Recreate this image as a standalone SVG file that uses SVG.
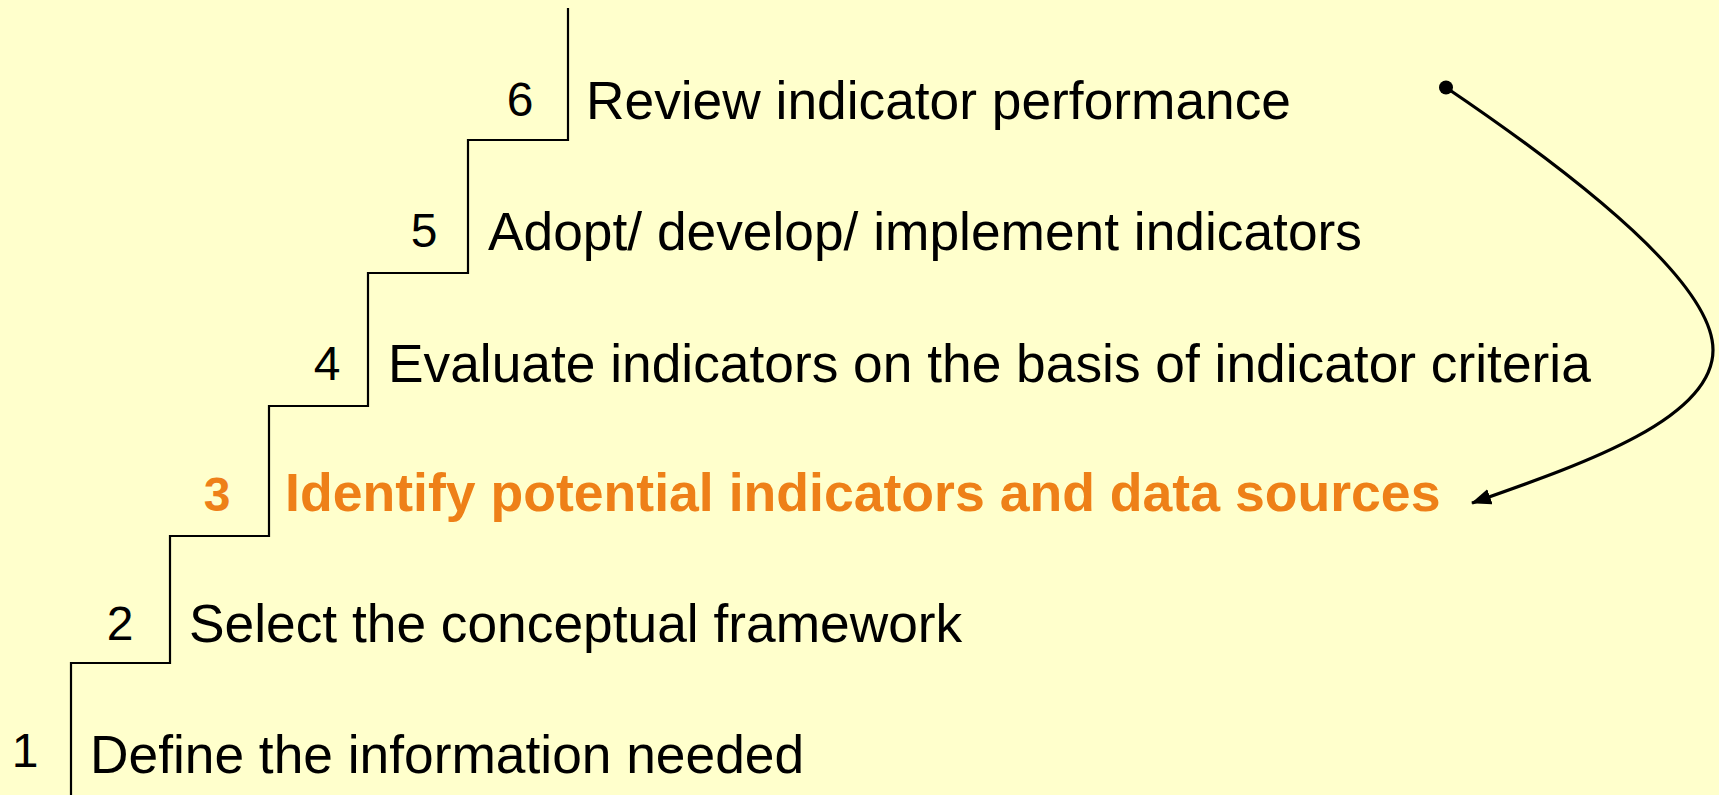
<svg xmlns="http://www.w3.org/2000/svg" width="1719" height="795" viewBox="0 0 1719 795">
<style>
.bg{fill:#FFFFCC}
.stair{fill:none;stroke:#000;stroke-width:2.2}
.num{font-family:"Liberation Sans",Arial,sans-serif;font-size:48px;fill:#000;text-anchor:middle}
.lbl{font-family:"Liberation Sans",Arial,sans-serif;font-size:53.3px;fill:#000}
.hl{fill:#EE8018;font-weight:bold}
.lbl.hl{font-size:53.6px}
.curve{fill:none;stroke:#000;stroke-width:3.2}
</style>
<defs>
<marker id="arrow" markerUnits="userSpaceOnUse" markerWidth="22" markerHeight="18" refX="19" refY="8" orient="auto">
<path d="M0,0 L20,8 L0,16 Z" fill="#000"/>
</marker>
</defs>
<rect class="bg" x="0" y="0" width="1719" height="795"/>
<g id="staircase">
<path class="stair" d="M568,8 V140 H468 V273 H368 V406 H269 V536 H170 V663 H71 V795"/>
</g>
<g id="step1">
<text class="num" x="25" y="767">1</text>
<text class="lbl" x="90" y="773">Define the information needed</text>
</g>
<g id="step2">
<text class="num" x="120" y="640">2</text>
<text class="lbl" x="189" y="642">Select the conceptual framework</text>
</g>
<g id="step3">
<text class="num hl" x="217" y="511">3</text>
<text class="lbl hl" x="285" y="511">Identify potential indicators and data sources</text>
</g>
<g id="step4">
<text class="num" x="327" y="380">4</text>
<text class="lbl" x="388" y="382">Evaluate indicators on the basis of indicator criteria</text>
</g>
<g id="step5">
<text class="num" x="424" y="247">5</text>
<text class="lbl" x="488" y="250">Adopt/ develop/ implement indicators</text>
</g>
<g id="step6">
<text class="num" x="520" y="116">6</text>
<text class="lbl" x="586" y="119">Review indicator performance</text>
</g>
<g id="connectors">
<circle cx="1446" cy="87.5" r="7" fill="#000"/>
<path class="curve" d="M1446,87.5 C1565,168 1713,280 1713,350 C1713,420 1580,465 1472,503" marker-end="url(#arrow)"/>
</g>
</svg>
